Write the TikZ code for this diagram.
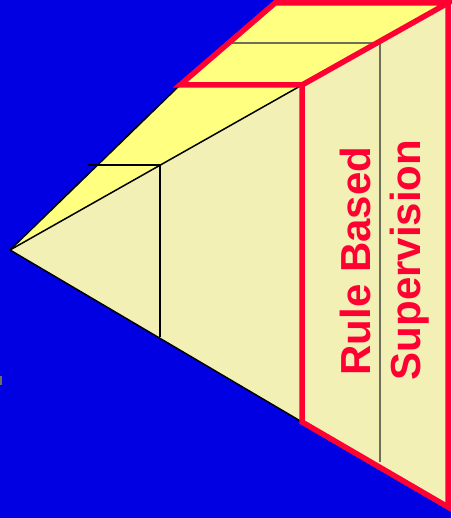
\documentclass[tikz,border=0pt]{standalone}
\usepackage{fontspec}
\setmainfont{Liberation Sans}
\definecolor{bgblue}{RGB}{0,0,226}
\definecolor{paleyel}{RGB}{242,240,180}
\definecolor{brightyel}{RGB}{255,255,128}
\definecolor{redline}{RGB}{255,0,51}
\definecolor{greyline}{RGB}{110,110,90}
\tikzset{
  redframe/.style={draw=redline,line width=5.5pt,line join=miter},
  edgeline/.style={draw=black,line width=1.5pt},
  thinline/.style={draw=black,line width=1.3pt},
  greyrule/.style={draw=greyline,line width=1.1pt},
  redtext/.style={text=redline,font=\bfseries\fontsize{42}{50}\selectfont,rotate=90,anchor=base,inner sep=0pt}
}
\begin{document}
\begin{tikzpicture}[x=1pt,y=-1pt]
\useasboundingbox (0,0) rectangle (451,518);
\fill[bgblue] (0,0) rectangle (451,518);
% coordinates
\coordinate (apex) at (10,250);
\coordinate (tl) at (180,85);
\coordinate (tr) at (302,85);
\coordinate (br) at (302,422);
\coordinate (ptl) at (275,3);
\coordinate (ptr) at (448,3);
\coordinate (fbr) at (448,507);
% pyramid front face
\fill[paleyel] (apex) -- (tr) -- (br) -- cycle;
% pyramid top face
\fill[brightyel] (apex) -- (tl) -- (tr) -- cycle;
\draw[edgeline] (tl) -- (apex) -- (br);
\draw[edgeline] (apex) -- (tr);
% inner lines of pyramid
\coordinate (ih1) at (88,165);
\coordinate (ih2) at (160,165);
\coordinate (iv2) at (160,337);
\draw[thinline] (ih1) -- (ih2) -- (iv2);
% right face
\fill[paleyel] (tr) -- (ptr) -- (fbr) -- (br) -- cycle;
\coordinate (gh1) at (232,43);
\coordinate (gh2) at (380,43);
\coordinate (gv2) at (380,462);
\draw[greyrule] (gh2) -- (gv2);
% top parallelogram
\fill[brightyel] (tl) -- (tr) -- (ptr) -- (ptl) -- cycle;
\draw[greyrule] (gh1) -- (gh2);
\draw[redframe] (ptr) -- (fbr) -- (br) -- (tr);
\draw[redframe] (tl) -- (tr) -- (ptr) -- (ptl) -- cycle;
% texts
\node[redtext] (t1) at (370,261) {Rule Based};
\node[redtext] (t2) at (420,260) {Supervision};
% small grey mark at left edge
\fill[greyline] (0,376) rectangle (1.5,385);
\end{tikzpicture}
\end{document}
